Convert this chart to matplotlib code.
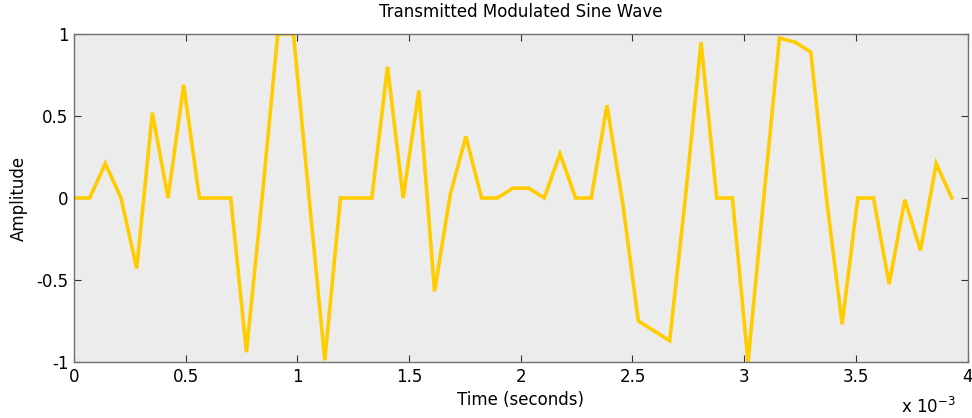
import numpy as np
import matplotlib.pyplot as plt
from matplotlib.ticker import FuncFormatter

# ── DATA ──────────────────────────────────────────────────────
N_SAMPLES = 57
T_STEP    = 4e-3 / 57      # sample spacing (s)

amplitude = [
    0.00, 0.00, 0.21, 0.00, -0.43, 0.52, 0.00, 0.69, 0.00, 0.00,
    0.00, -0.94, 0.00, 1.00, 1.00, 0.00, -0.99, 0.00, 0.00, 0.00,
    0.80, 0.00, 0.655, -0.57, 0.02, 0.375, 0.00, 0.00, 0.06, 0.06,
    0.00, 0.27, 0.00, 0.00, 0.565, -0.03, -0.75, -0.81, -0.87, 0.00,
    0.95, 0.00, 0.00, -1.00, 0.00, 0.975, 0.95, 0.89, 0.00, -0.77,
    0.00, 0.00, -0.525, -0.01, -0.32, 0.21, 0.00,
]
time_s = np.arange(N_SAMPLES) * T_STEP

x_ticks = [0, 0.5e-3, 1e-3, 1.5e-3, 2e-3, 2.5e-3, 3e-3, 3.5e-3, 4e-3]
y_ticks = [-1, -0.5, 0, 0.5, 1]

# ── PLOT ──────────────────────────────────────────────────────
plt.rcParams['font.family'] = ['DejaVu Sans']
FS = 12
fig = plt.figure(figsize=(9.72, 4.18), dpi=100)
ax = fig.add_axes([0.0761, 0.134, 0.9193, 0.7847])
ax.set_facecolor('#ececec')

ax.plot(time_s, amplitude, color='#ffcc00', lw=2.6, solid_joinstyle='miter')

ax.set_xlim(0, 4e-3)
ax.set_ylim(-1, 1)
ax.set_xticks(x_ticks)
ax.set_yticks(y_ticks)
ax.xaxis.set_major_formatter(FuncFormatter(lambda v, p: f"{v * 1e3:g}"))
ax.yaxis.set_major_formatter(FuncFormatter(lambda v, p: f"{v:g}"))
ax.tick_params(direction='in', length=5, width=0.8, colors='#333333',
               labelcolor='black', labelsize=FS, top=True, right=True, pad=4)
for s in ax.spines.values():
    s.set_color('#707070')
    s.set_linewidth(1.0)

ax.set_title('Transmitted Modulated Sine Wave', fontsize=FS, pad=12)
ax.set_xlabel('Time (seconds)', fontsize=FS, labelpad=4)
ax.set_ylabel('Amplitude', fontsize=FS, labelpad=6)
fig.text(0.927, 0.012, r'x 10$^{-3}$', fontsize=FS)

fig.savefig('out.png', dpi=100)
